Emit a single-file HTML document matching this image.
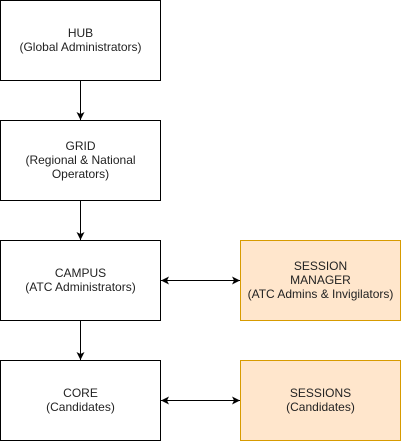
<!DOCTYPE html>
<html><head><style>html,body{margin:0;padding:0;background:#fff}</style></head><body>
<svg width="402" height="442" xmlns="http://www.w3.org/2000/svg" style="display:block">
<defs>
<marker id="a" markerWidth="10" markerHeight="10" refX="8" refY="4" orient="auto-start-reverse" markerUnits="userSpaceOnUse">
<path d="M0,0 L8,4 L0,8 L2,4 Z" fill="#000"/>
</marker>
</defs>
<g fill="#fff" stroke="#000" stroke-width="1">
<rect x="0.5" y="0.5" width="160" height="80"/>
<rect x="0.5" y="120.5" width="160" height="80"/>
<rect x="0.5" y="240.5" width="160" height="80"/>
<rect x="0.5" y="360.5" width="160" height="80"/>
</g>
<g fill="#ffe6cc" stroke="#d79b00" stroke-width="1">
<rect x="240.5" y="240.5" width="160" height="80"/>
<rect x="240.5" y="360.5" width="160" height="80"/>
</g>
<g stroke="#000" stroke-width="1" fill="none">
<line x1="80.5" y1="81" x2="80.5" y2="120" marker-end="url(#a)"/>
<line x1="80.5" y1="201" x2="80.5" y2="240" marker-end="url(#a)"/>
<line x1="80.5" y1="321" x2="80.5" y2="360" marker-end="url(#a)"/>
<line x1="161" y1="280.5" x2="240" y2="280.5" marker-start="url(#a)" marker-end="url(#a)"/>
<line x1="161" y1="400.5" x2="240" y2="400.5" marker-start="url(#a)" marker-end="url(#a)"/>
</g>
<g font-family="Liberation Sans, sans-serif" font-size="12" fill="#222" text-anchor="middle">
<text x="80.5" y="37">HUB</text>
<text x="80.5" y="51">(Global Administrators)</text>
<text x="80.5" y="150">GRID</text>
<text x="80.5" y="164">(Regional &amp; National</text>
<text x="80.5" y="178">Operators)</text>
<text x="80.5" y="277">CAMPUS</text>
<text x="80.5" y="291">(ATC Administrators)</text>
<text x="80.5" y="397">CORE</text>
<text x="80.5" y="411">(Candidates)</text>
<text x="320.5" y="270">SESSION</text>
<text x="320.5" y="284">MANAGER</text>
<text x="320.5" y="298">(ATC Admins &amp; Invigilators)</text>
<text x="320.5" y="397">SESSIONS</text>
<text x="320.5" y="411">(Candidates)</text>
</g>
</svg>
</body></html>
